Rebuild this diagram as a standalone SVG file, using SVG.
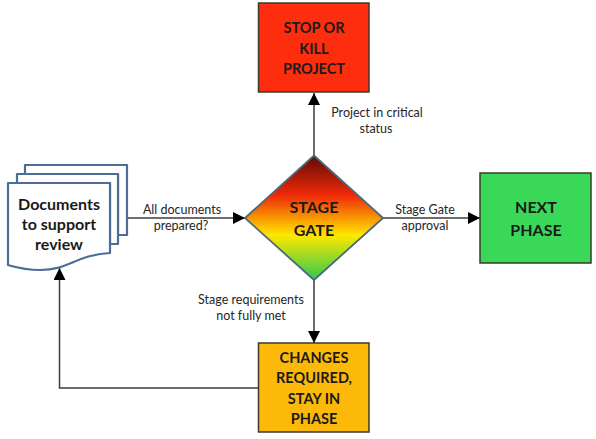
<svg xmlns="http://www.w3.org/2000/svg" width="596" height="439" viewBox="0 0 596 439">
<style>
text{font-family:Lato,"Liberation Sans",sans-serif;text-anchor:middle;fill:#1a1a1a}
.b{font-weight:700;font-size:14.500px}
.d{font-size:16px}
.m{font-size:16px}
.l{font-size:12.500px;fill:#262626}
.box{stroke:#3a3a2a;stroke-width:1.500}
.doc{fill:#fff;stroke:#4d6d99;stroke-width:2.200;stroke-linejoin:round}
.c{fill:none;stroke:#3c3c3c;stroke-width:1.500}
</style>
<defs>
<linearGradient id="g" x1="0" y1="0" x2="0" y2="1">
<stop offset="0" stop-color="#5e0a06"/>
<stop offset="0.32" stop-color="#f02a08"/>
<stop offset="0.64" stop-color="#ffe800"/>
<stop offset="1" stop-color="#2fc850"/>
</linearGradient>
<marker id="a" markerUnits="userSpaceOnUse" markerWidth="13" markerHeight="13" refX="12" refY="6" orient="auto"><path d="M0 0L12 6L0 12Z" fill="#000"/></marker>
</defs>
<g id="connectors">
<path class="c" d="M314 155V93" marker-end="url(#a)"/>
<path class="c" d="M127 218H245" marker-end="url(#a)"/>
<path class="c" d="M383 218H480" marker-end="url(#a)"/>
<path class="c" d="M314 280V343" marker-end="url(#a)"/>
<path class="c" d="M259 388H59.500V268" marker-end="url(#a)"/>
</g>
<g id="stop"><rect class="box" x="258.500" y="3" width="110.500" height="89" fill="#fd2d0d"/>
<text class="b" x="314" y="33">STOP OR</text><text class="b" x="314" y="54">KILL</text><text class="b" x="314" y="74">PROJECT</text></g>
<g id="next"><rect class="box" x="480" y="173" width="111" height="90" fill="#3ad858"/>
<text class="b m" x="536" y="213">NEXT</text><text class="b m" x="536" y="236">PHASE</text></g>
<g id="changes"><rect class="box" x="258.500" y="343" width="110.500" height="89" fill="#fdb90a"/>
<text class="b" x="314" y="363">CHANGES</text><text class="b" x="314" y="383">REQUIRED,</text><text class="b" x="314" y="404">STAY IN</text><text class="b" x="314" y="424">PHASE</text></g>
<g id="gate"><path d="M314 155.500L383 218L314 280L245 218Z" fill="url(#g)" stroke="#4d6878" stroke-width="1.800"/>
<text class="b m" x="314" y="213">STAGE</text><text class="b m" x="314" y="236">GATE</text></g>
<g id="documents">
<path class="doc" d="M25 165H127V235H118V174H25Z"/>
<path class="doc" d="M17 174H118V244H110V183H17Z"/>
<path class="doc" d="M8 183H110V253C75 255 70 270 40 270C25 270 15 267 8 265Z"/>
<text class="b d" x="59" y="210">Documents</text><text class="b d" x="59" y="230">to support</text><text class="b d" x="59" y="250">review</text></g>
<g id="labels">
<text class="l" x="182" y="214">All documents</text><text class="l" x="181" y="230">prepared?</text>
<text class="l" x="377" y="117">Project in critical</text><text class="l" x="376" y="133">status</text>
<text class="l" x="425" y="214">Stage Gate</text><text class="l" x="425" y="230">approval</text>
<text class="l" x="251" y="304">Stage requirements</text><text class="l" x="251" y="320">not fully met</text>
</g>
</svg>
